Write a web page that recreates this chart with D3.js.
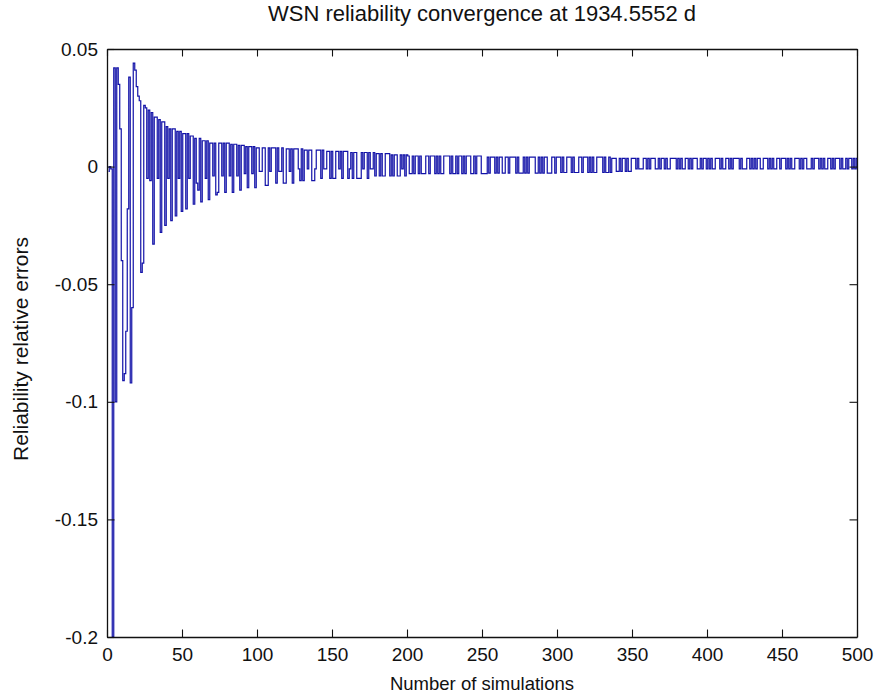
<!DOCTYPE html>
<html><head><meta charset="utf-8">
<script src="https://cdn.jsdelivr.net/npm/d3@7"></script>
<style>body{margin:0;background:#fff}svg{display:block}</style></head>
<body><svg id="c" width="875" height="699"></svg>
<script>
const titleText = "WSN reliability convergence at 1934.5552 d";
const xLabelText = "Number of simulations";
const yLabelText = "Reliability relative errors";
const xTicks = [0, 50, 100, 150, 200, 250, 300, 350, 400, 450, 500];
const yTicks = [-0.2, -0.15, -0.1, -0.05, 0, 0.05];
const yTickLabels = ["-0.2", "-0.15", "-0.1", "-0.05", "0", "0.05"];

// relative error, simulations 1..50
const err001 = [-0.002,0.000,-0.001,-0.200,0.042,-0.100,0.042,0.035,0.016,-0.040,
 -0.091,-0.088,-0.070,-0.018,0.038,-0.092,-0.060,0.044,0.041,0.034,
 0.030,0.028,-0.045,-0.041,0.026,0.025,-0.005,0.024,-0.006,0.023,
 -0.033,0.021,0.021,-0.005,0.020,-0.028,0.019,0.019,-0.025,0.017,
 -0.005,0.016,-0.023,0.016,0.016,-0.021,0.015,-0.005,0.015,-0.019];
// 51..100
const err051 = [0.014,0.014,-0.018,0.014,-0.005,0.013,0.013,-0.016,0.012,-0.007,
 -0.010,0.012,-0.015,0.011,0.011,-0.005,0.011,-0.014,0.010,0.010,
 -0.004,0.010,-0.012,-0.011,0.010,0.010,-0.004,0.010,-0.011,0.010,
 0.010,-0.004,0.0095,-0.011,0.0095,0.0095,-0.004,0.009,-0.010,0.009,
 0.009,-0.003,0.0085,-0.009,0.0085,0.0085,-0.003,0.0085,-0.009,0.008];
// 101..200
const err101 = [0.008,-0.002,-0.002,0.008,0.008,-0.008,-0.008,0.008,-0.002,0.008,
 0.008,0.008,-0.007,0.008,-0.002,-0.002,0.008,-0.007,-0.007,0.0075,
 0.0075,-0.002,0.0075,-0.007,0.0075,0.0075,0.0075,-0.001,-0.006,0.0075,
 -0.006,0.007,0.007,-0.001,0.007,0.007,-0.006,-0.006,-0.001,0.007,
 0.007,0.007,-0.005,0.007,-0.001,-0.001,0.0065,0.0065,-0.005,0.0065,
 -0.005,-0.005,0.0065,0.0065,-0.001,0.0065,-0.005,0.0065,0.0065,0.0065,
 -0.005,-0.001,0.006,-0.005,0.006,0.006,-0.005,-0.005,-0.005,0.006,
 -0.001,0.006,0.006,-0.005,0.006,-0.001,-0.001,0.006,-0.004,0.0055,
 0.0055,-0.004,0.0055,-0.004,-0.004,0.0055,0.0055,0.0055,-0.004,0.005,
 -0.004,0.005,0.005,-0.004,-0.004,0.005,-0.001,0.005,-0.004,0.005];
// 201..300
const err201 = [0.0045,-0.003,-0.003,0.0045,-0.003,0.0045,0.0045,-0.003,0.0045,-0.003,
 -0.003,-0.003,0.0045,0.0045,-0.003,0.0045,0.0045,0.0045,-0.003,0.0045,
 -0.003,0.0045,-0.003,-0.003,0.0045,0.0045,0.0045,0.0045,-0.003,0.0045,
 -0.003,-0.003,0.0045,-0.003,0.0045,0.0045,-0.003,0.0045,-0.003,0.0045,
 0.0045,0.0045,-0.003,-0.003,0.0045,-0.003,0.0045,0.0045,0.0045,-0.003,
 -0.003,-0.003,-0.003,0.004,-0.0028,0.004,0.004,0.004,-0.0028,0.004,
 -0.0028,0.004,0.004,-0.0028,-0.0028,0.004,0.004,-0.0028,0.004,0.004,
 0.004,0.004,-0.0028,0.004,-0.0028,-0.0028,-0.0028,0.004,-0.0028,0.004,
 -0.0028,0.004,0.004,0.004,0.004,-0.0028,-0.0028,0.004,-0.0028,0.004,
 -0.0028,0.004,0.004,-0.0028,-0.0028,-0.0028,0.004,0.004,-0.0028,0.004];
// 301..400
const err301 = [0.004,0.004,-0.0025,0.004,-0.0025,-0.0025,0.004,0.004,0.004,-0.0025,
 0.004,-0.0025,-0.0025,-0.0025,0.004,0.004,-0.0025,0.004,0.004,0.004,
 -0.0025,0.004,-0.0025,0.004,-0.0025,-0.0025,0.004,0.004,0.004,0.004,
 -0.0025,0.004,-0.0025,-0.0025,0.004,-0.0025,0.0035,0.0035,0.0035,-0.002,
 -0.002,0.0035,-0.002,0.0035,0.0035,-0.002,0.0035,-0.002,-0.002,0.0035,
 0.0035,0.0035,-0.001,0.0035,-0.001,-0.001,-0.001,0.0035,0.0035,-0.001,
 0.0035,-0.001,0.0035,0.0035,0.0035,-0.001,-0.001,0.0035,-0.001,0.0035,
 0.0035,-0.001,0.0035,-0.001,-0.001,0.0035,0.0035,0.0035,0.0035,-0.001,
 0.0035,-0.001,0.0035,-0.001,-0.001,0.0035,0.0035,-0.001,0.0035,-0.001,
 0.0035,0.0035,0.0035,-0.001,-0.001,0.0035,-0.001,0.0035,0.0035,-0.001];
// 401..500
const err401 = [0.0035,-0.001,0.0035,-0.001,-0.001,0.0035,0.0035,0.0035,-0.001,0.0035,
 -0.001,-0.001,0.0035,0.0035,-0.001,0.0035,-0.001,0.0035,0.0035,0.0035,
 0.0035,-0.001,0.0035,-0.001,-0.001,-0.001,0.0035,0.0035,-0.001,0.0035,
 -0.001,0.0035,-0.001,0.0035,0.0035,-0.001,-0.001,0.0035,0.0035,0.0035,
 -0.001,0.0035,-0.001,0.0035,-0.001,-0.001,0.0035,0.0035,-0.001,0.0035,
 0.0035,0.0035,-0.001,0.0035,-0.001,0.0035,-0.001,-0.001,0.0035,0.0035,
 0.0035,-0.001,0.0035,-0.001,0.0035,0.0035,-0.001,-0.001,-0.001,0.0035,
 -0.001,0.0035,0.0035,0.0035,-0.001,0.0035,-0.001,0.0035,-0.001,-0.001,
 0.0035,0.0035,-0.001,0.0035,-0.001,0.0035,0.0035,0.0035,-0.001,0.0035,
 -0.001,-0.001,0.0035,-0.001,0.0035,0.0035,-0.001,0.0035,-0.001,0.0035];

const errors = [].concat(err001, err051, err101, err201, err301, err401);
const data = errors.map((v, i) => ({n: i + 1, v: v}));

const svg = d3.select("#c");
svg.append("rect").attr("width", 875).attr("height", 699).attr("fill", "#fff");

const pL = 107, pR = 857, pT = 49, pB = 637;
const x = d3.scaleLinear().domain([0, 500]).range([pL, pR]);
const y = d3.scaleLinear().domain([-0.2, 0.05]).range([pB, pT]);
const font = "'Liberation Sans', Arial, Helvetica, sans-serif";
const ink = "#111";

svg.append("clipPath").attr("id", "clip").append("rect")
  .attr("x", pL).attr("y", pT).attr("width", pR - pL).attr("height", pB - pT);

svg.append("path").datum(data)
  .attr("clip-path", "url(#clip)")
  .attr("fill", "none").attr("stroke", "#1212a8").attr("stroke-width", 1.2)
  .attr("d", d3.line().curve(d3.curveStep).x(d => x(d.n)).y(d => y(d.v)));

const tk = 7.5;
const gB = svg.append("g").attr("transform", `translate(0,${pB})`)
  .call(d3.axisBottom(x).tickValues(xTicks).tickSizeInner(-tk).tickSizeOuter(0).tickPadding(11).tickFormat(d3.format("d")));
const gT = svg.append("g").attr("transform", `translate(0,${pT})`)
  .call(d3.axisTop(x).tickValues(xTicks).tickSizeInner(-tk).tickSizeOuter(0).tickFormat(""));
const gL = svg.append("g").attr("transform", `translate(${pL},0)`)
  .call(d3.axisLeft(y).tickValues(yTicks).tickSizeInner(-tk).tickSizeOuter(0).tickPadding(9)
    .tickFormat((d, i) => yTickLabels[i]));
const gR = svg.append("g").attr("transform", `translate(${pR},0)`)
  .call(d3.axisRight(y).tickValues(yTicks).tickSizeInner(-tk).tickSizeOuter(0).tickFormat(""));

[gB, gT, gL, gR].forEach(g => {
  g.selectAll("path.domain").attr("stroke", ink).attr("stroke-width", 1.3);
  g.selectAll(".tick line").attr("stroke", ink).attr("stroke-width", 1.1);
  g.selectAll("text").attr("fill", ink).style("font-family", font).style("font-size", "19px");
});

svg.append("text").attr("x", (pL + pR) / 2).attr("y", 21)
  .attr("text-anchor", "middle").style("font-family", font).style("font-size", "22px")
  .attr("fill", ink).text(titleText);
svg.append("text").attr("x", (pL + pR) / 2).attr("y", 690)
  .attr("text-anchor", "middle").style("font-family", font).style("font-size", "18.5px")
  .attr("fill", ink).text(xLabelText);
svg.append("text").attr("transform", `translate(28,${(pT + pB) / 2 + 6}) rotate(-90)`)
  .attr("text-anchor", "middle").style("font-family", font).style("font-size", "21px")
  .attr("fill", ink).text(yLabelText);
</script></body></html>
